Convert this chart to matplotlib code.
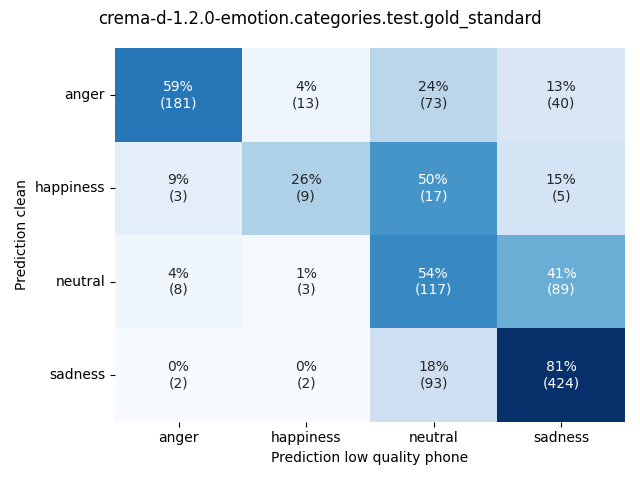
import numpy as np
import matplotlib
matplotlib.use("Agg")
import matplotlib.pyplot as plt
import seaborn as sns

categories = ["anger", "happiness", "neutral", "sadness"]
counts = np.array([
    [181, 13, 73, 40],
    [3, 9, 17, 5],
    [8, 3, 117, 89],
    [2, 2, 93, 424],
])
title = "crema-d-1.2.0-emotion.categories.test.gold_standard"

perc = counts / counts.sum(axis=1, keepdims=True) * 100
annot = np.array([[f"{p:.0f}%\n({c})" for p, c in zip(pr, cr)] for pr, cr in zip(perc, counts)])

fig, ax = plt.subplots(figsize=(6.4, 4.8), dpi=100)
sns.heatmap(perc, annot=annot, fmt="", cmap="Blues", cbar=False,
            xticklabels=categories, yticklabels=categories, ax=ax)
ax.set_yticklabels(categories, rotation=0)
ax.set_xlabel("Prediction low quality phone")
ax.set_ylabel("Prediction clean")
fig.suptitle(title)
fig.tight_layout()
fig.savefig("out.png")
